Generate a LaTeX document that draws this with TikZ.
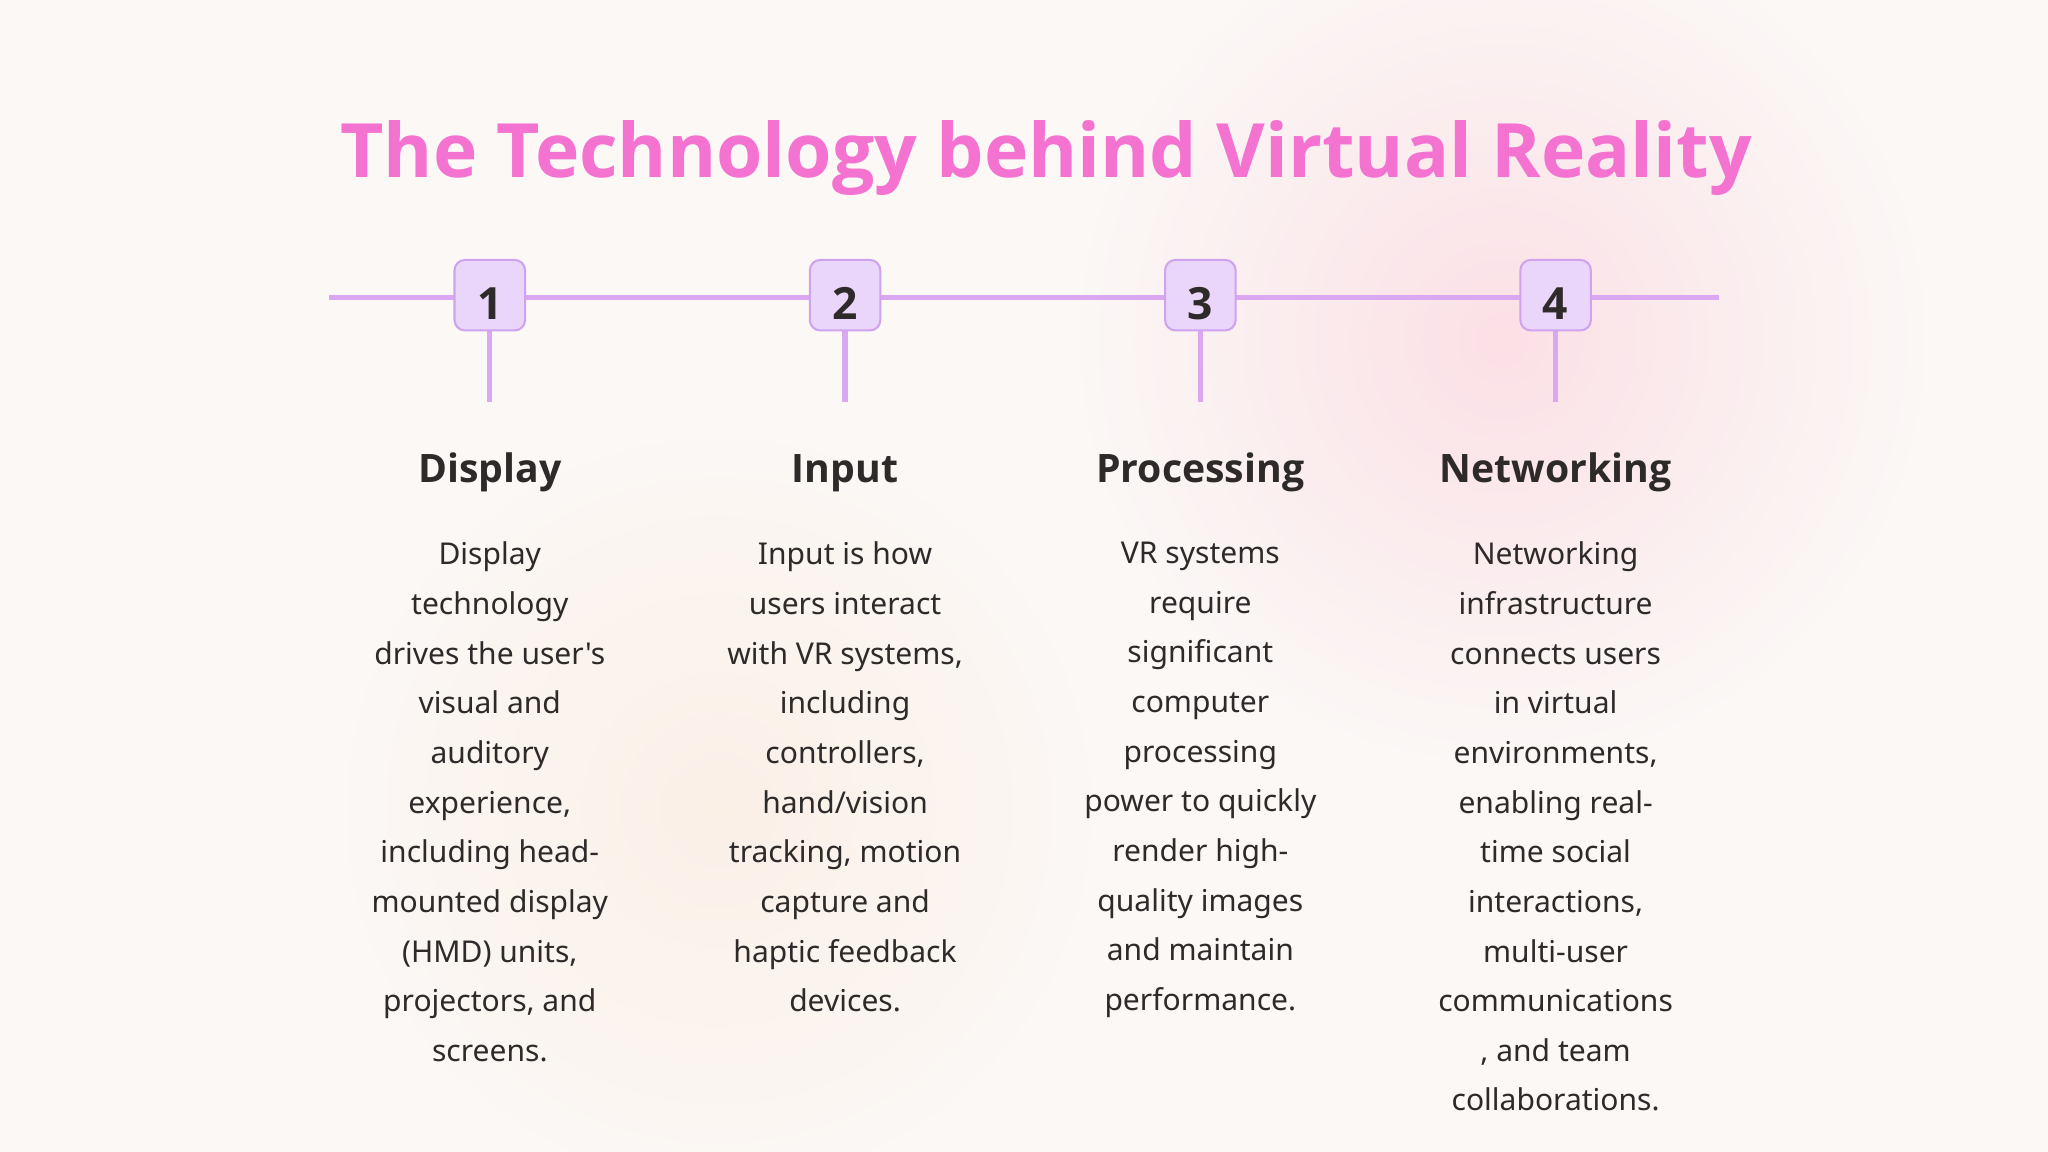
\documentclass[tikz,border=0pt]{standalone}
\usepackage{fontspec}
\defaultfontfeatures[\rmfamily,\sffamily]{}
\setmainfont{Noto Sans}
\newfontfamily\hfont{Open Sans}
\definecolor{bg}{HTML}{FBF8F6}
\definecolor{titlec}{HTML}{F472D0}
\definecolor{linec}{HTML}{D9A8F0}
\definecolor{boxfill}{HTML}{EAD6FA}
\definecolor{boxdraw}{HTML}{CFA3EE}
\definecolor{txt}{HTML}{2E2A2A}
\definecolor{pinkglow}{HTML}{FBE0E6}
\definecolor{peach}{HTML}{FCEEE3}
\begin{document}
\begin{tikzpicture}[x=0.5pt,y=-0.5pt,
  numbox/.style={draw=boxdraw,fill=boxfill,line width=0.8pt,rounded corners=4pt,minimum width=27pt,minimum height=27pt,inner sep=0pt,text height=19pt,text depth=0pt,font=\hfont\fontsize{17}{17}\selectfont\bfseries,text=txt},
  conn/.style={draw=linec,line width=2pt},
  head/.style={font=\hfont\fontsize{15}{18}\selectfont\bfseries,text=txt},
  body/.style={font=\fontsize{11.5}{19}\selectfont,text=txt,align=center,anchor=north}]
\fill[bg] (0,0) rectangle (1568,882);
\useasboundingbox (0,0) rectangle (1568,882);
\shade[inner color=pinkglow,outer color=bg] (1150,260) circle (330);
\shade[inner color=peach,outer color=bg,opacity=0.8] (550,620) circle (300);
\node[font=\hfont\fontsize{28.7}{34}\selectfont\bfseries,text=titlec] (title) at (801,121) {The Technology behind Virtual Reality};
\coordinate (L) at (252,228);
\coordinate (R) at (1316,228);
\draw[conn] (L) -- (R);
\foreach \i/\x/\h in {1/375/Display,2/647/Input,3/919/Processing,4/1191/Networking}{
  \coordinate (s\i) at (\x,308);
  \draw[conn] (\x,228) -- (s\i);
  \node[numbox] (n\i) at (\x,226) {\i};
  \node[head] (h\i) at (\x,362) {\h};
}
\node[body] (b1) at (375,408) {Display\\technology\\drives the user's\\visual and\\auditory\\experience,\\including head-\\mounted display\\(HMD) units,\\projectors, and\\screens.};
\node[body] (b2) at (647,408) {Input is how\\users interact\\with VR systems,\\including\\controllers,\\hand/vision\\tracking, motion\\capture and\\haptic feedback\\devices.};
\node[body] (b3) at (919,408) {VR systems\\require\\significant\\computer\\processing\\power to quickly\\render high-\\quality images\\and maintain\\performance.};
\node[body] (b4) at (1191,408) {Networking\\infrastructure\\connects users\\in virtual\\environments,\\enabling real-\\time social\\interactions,\\multi-user\\communications\\, and team\\collaborations.};
\end{tikzpicture}
\end{document}
